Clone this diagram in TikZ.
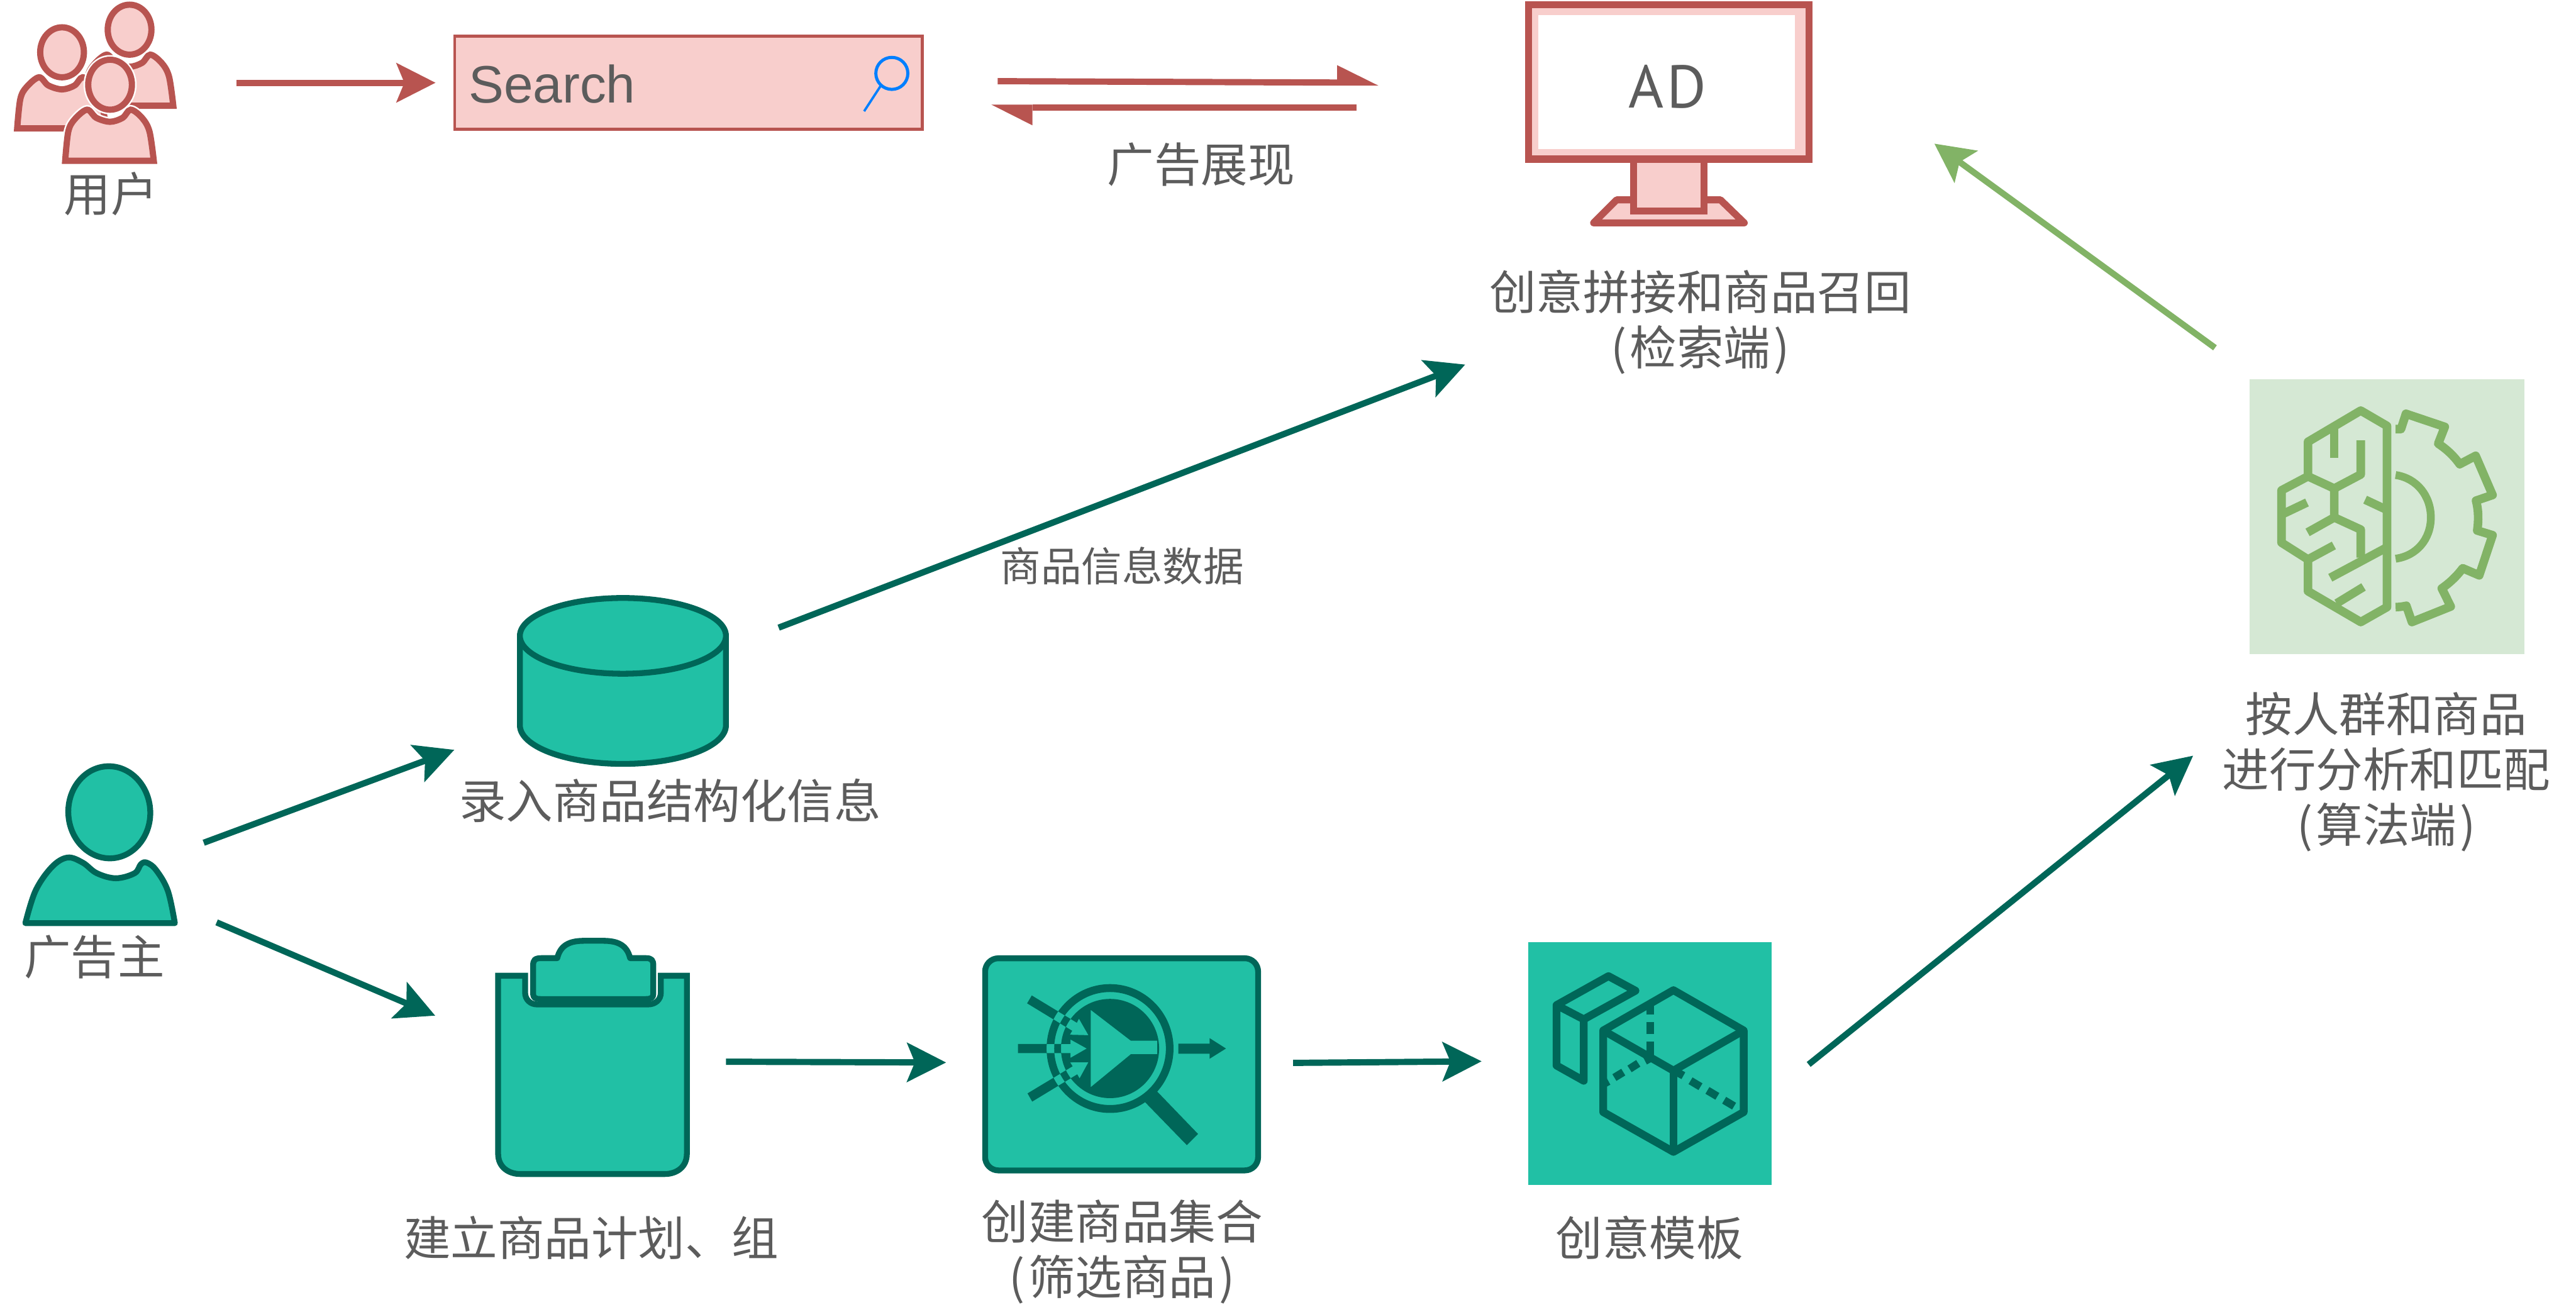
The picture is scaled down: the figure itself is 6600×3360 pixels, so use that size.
\documentclass[tikz,border=0pt]{standalone}
\usepackage{fontspec}
\usetikzlibrary{arrows.meta}
\newfontfamily\cjk{Noto Sans CJK SC}
\newfontfamily\latinf{Liberation Sans}
\newfontfamily\adfont{PT Sans}
\definecolor{tealf}{HTML}{21C0A5}
\definecolor{teald}{HTML}{006658}
\definecolor{pinkf}{HTML}{F8CECC}
\definecolor{redl}{HTML}{B85450}
\definecolor{greenf}{HTML}{D5E8D4}
\definecolor{greenl}{HTML}{82B366}
\definecolor{textc}{HTML}{5C5C5C}
\definecolor{bluem}{HTML}{007FFF}
\newcommand{\parl}{(\kern1.2pt}
\newcommand{\parr}{\kern1.2pt)}
\tikzset{
  every node/.style={outer sep=0pt},
  lab/.style={text=textc,font=\cjk\fontsize{17.1}{20.2}\selectfont,align=center,inner sep=0pt},
  smalllab/.style={text=textc,font=\cjk\fontsize{14.8}{18}\selectfont,align=center,inner sep=0pt},
  tealshape/.style={draw=teald,fill=tealf,line width=.075cm,line join=round},
  redshape/.style={draw=redl,fill=pinkf,line width=.08cm},
  tip/.style={-{Stealth[length=.5cm,width=.5cm,inset=.1cm]}},
  tealarrow/.style={draw=teald,line width=.08cm,tip},
  redarrow/.style={draw=redl,line width=.08cm,tip},
  greenarrow/.style={draw=greenl,line width=.08cm,tip},
  halfshaft/.style={draw=redl,line width=.08cm},
  halfhead/.style={fill=redl},
  brain/.style={draw=greenl,line width=.11cm,line join=round},
  cube/.style={draw=teald,line width=.1cm,line join=round},
}
\newcommand{\oneuser}[2]{%
  \begin{scope}[shift={(#1,#2)}]
    \draw[white,line width=.12cm] (282,217) ellipse [x radius=56,y radius=64];
    \draw[white,line width=.12cm] plot[smooth,tension=.55] coordinates {(167,412)(175,337)(191,306)(223,281)(247,302)(282,312)(314,302)(335,281)(364,302)(383,337)(394,412)} -- cycle;
    \draw[redshape] (282,217) ellipse [x radius=56,y radius=64];
    \draw[redshape] plot[smooth,tension=.55] coordinates {(167,412)(175,337)(191,306)(223,281)(247,302)(282,312)(314,302)(335,281)(364,302)(383,337)(394,412)} -- cycle;
  \end{scope}}
\begin{document}
\begin{tikzpicture}[x=0.005cm,y=-0.005cm]
\useasboundingbox (0,0) rectangle (6600,3360);
\fill[white] (0,0) rectangle (6600,3360);

% users
\oneuser{50}{-141}
\oneuser{-123}{-83}
\oneuser{0}{0}
\node[lab] (userlabel) at (284,497) {用户};

% search box
\node[draw=redl,fill=pinkf,line width=.04cm,minimum width=5.995cm,minimum height=1.2cm,inner sep=0pt,anchor=north west] (search) at (1165,92) {};
\node[text=textc,font=\latinf\fontsize{19.2}{22}\selectfont,inner sep=0pt,anchor=base west] (searchtext) at (1201,264) {Search};
\draw[bluem,line width=.04cm] (2285,188) ellipse [x radius=41,y radius=41];
\draw[bluem,line width=.03cm] (2257,219) -- (2214,285);

% monitor
\draw[redshape,line width=.09cm,line join=round] (4083,571) -- (4142,512) -- (4408,512) -- (4469,571) -- cycle;
\draw[redshape,line width=.09cm] (4186,400) rectangle (4366,541);
\node[draw=redl,fill=pinkf,line width=.09cm,minimum width=3.6cm,minimum height=1.98cm,inner sep=0pt,anchor=north west] (monitor) at (3916,12) {};
\node[fill=white,minimum width=3.29cm,minimum height=1.72cm,inner sep=0pt,anchor=north west] (screen) at (3942,38) {};
\node[text=textc,font=\adfont\fontsize{22}{26}\selectfont,inner sep=0pt] (adtext) at (4272,222) {A\kern1pt D};
\node[lab] (retrieval) at (4356,825) {创意拼接和商品召回\\\parl 检索端\parr};

% database
\draw[tealshape] (1332,1629) -- (1332,1858) arc[start angle=180,end angle=0,x radius=264,y radius=99] -- (1860,1629) -- cycle;
\draw[tealshape] (1596,1629) ellipse [x radius=264,y radius=97];
\node[lab] (dblabel) at (1717,2051) {录入商品结构化信息};

% advertiser
\draw[tealshape,rotate around={3:(280,2081)}] (280,2081) ellipse [x radius=105,y radius=118];
\draw[tealshape] plot[smooth,tension=.6] coordinates {(65,2365)(91,2282)(133,2221)(173,2197)(212,2210)(248,2237)(297,2250)(345,2237)(361,2214)(376,2210)(400,2229)(430,2282)(448,2365)} -- cycle;
\node[lab] (advlabel) at (242,2452) {广告主};

% clipboard
\begin{scope}[shift={(0,1900)},xscale=1.212,yscale=.765]
  \draw[tealshape,line join=miter] (1110,784) -- (1053,784) -- (1053,1380) .. controls (1053,1425) and (1075,1448) .. (1100,1448) -- (1405,1448) .. controls (1430,1448) and (1452,1425) .. (1452,1380) -- (1452,784) -- (1397,784) -- (1397,840) .. controls (1397,865) and (1385,880) .. (1370,880) -- (1135,880) .. controls (1122,880) and (1110,865) .. (1110,840) -- cycle;
  \draw[tealshape] (1127,750) .. controls (1127,732) and (1130,725) .. (1145,725) -- (1178,725) .. controls (1185,680) and (1205,667) .. (1235,667) -- (1275,667) .. controls (1305,667) and (1325,680) .. (1332,725) -- (1365,725) .. controls (1378,725) and (1381,732) .. (1381,750) -- (1381,845) .. controls (1381,858) and (1376,862) .. (1365,862) -- (1143,862) .. controls (1132,862) and (1127,858) .. (1127,845) -- cycle;
\end{scope}
\node[lab] (planlabel) at (1515,3171) {建立商品计划、组};

% filter
\node[draw=teald,fill=tealf,line width=.075cm,rounded corners=.17cm,minimum width=3.5cm,minimum height=2.72cm,inner sep=0pt,anchor=north west] (filter) at (2524,2455) {};
\begin{scope}[shift={(2450,2400)},xscale=.542,yscale=.4209]
  \fill[teald,even odd rule]
    (727,680) ellipse [x radius=300,y radius=392]
    (727,680) ellipse [x radius=264,y radius=344]
    (727,680) ellipse [x radius=232,y radius=302]
    (636,445) -- (825,632) -- (950,632) -- (950,715) -- (825,715) -- (636,915) -- cycle
    (292,652) -- (540,652) -- (540,625) -- (617,680) -- (540,737) -- (540,708) -- (292,708) -- cycle
    (357,357) -- (570,523) -- (580,498) -- (625,599) -- (537,596) -- (548,572) -- (335,405) -- cycle
    (337,953) -- (550,788) -- (538,764) -- (625,763) -- (583,862) -- (572,837) -- (359,1003) -- cycle;
  \fill[teald] (1050,650) -- (1198,650) -- (1198,617) -- (1275,680) -- (1198,742) -- (1198,712) -- (1050,712) -- cycle;
  \fill[teald] (950,942) -- (1143,1200) -- (1090,1268) -- (893,1007) -- cycle;
\end{scope}
\node[lab] (filterlabel) at (2875,3207) {创建商品集合\\\parl 筛选商品\parr};

% template
\node[fill=tealf,minimum width=3.12cm,minimum height=3.115cm,inner sep=0pt,anchor=north west] (template) at (3916,2414) {};
\begin{scope}[shift={(3880,2398)},xscale=.4464,yscale=.4337]
  \draw[cube] (510,558) -- (913,320) -- (1316,558) -- (1316,1040) -- (913,1275) -- (510,1040) -- cycle;
  \draw[cube] (510,558) -- (913,795) -- (1316,558);
  \draw[cube] (913,795) -- (913,1275);
  \draw[cube] (780,390) -- (780,465) (780,510) -- (780,578) (780,625) -- (780,720);
  \draw[cube] (510,875) -- (540,858) (574,836) -- (625,804) (661,785) -- (711,752) (750,738) -- (780,722);
  \draw[cube] (935,805) -- (970,825) (1011,855) -- (1068,890) (1108,912) -- (1165,947) (1204,970) -- (1261,1005);
  \draw[cube] (398,492) -- (242,408) -- (540,237) -- (695,323) -- (398,492) -- (398,855) -- (242,765) -- (242,408);
\end{scope}
\node[lab] (templatelabel) at (4226,3171) {创意模板};

% algorithm
\node[fill=greenf,minimum width=3.52cm,minimum height=3.52cm,inner sep=0pt,anchor=north west] (algo) at (5764,972) {};
\begin{scope}[shift={(5700,950)},xscale=.5102,yscale=.4785]
  \draw[brain] (815,295) -- (683,213) -- (418,380) -- (418,565) -- (285,640) -- (285,920) -- (418,1010) -- (418,1180) -- (683,1345) -- (815,1265) -- cycle;
  \draw[brain] (550,300) -- (550,465);
  \draw[brain] (683,372) -- (683,555) -- (550,630) -- (418,565);
  \draw[brain] (550,630) -- (550,785) -- (683,850) -- (683,1000);
  \draw[brain] (550,785) -- (416,865);
  \draw[brain] (285,770) -- (413,705);
  \draw[brain] (815,745) -- (705,690);
  \draw[brain] (815,945) -- (530,1108);
  \draw[brain] (418,1010) -- (548,935);
  \draw[brain] (562,1245) -- (697,1157);
  \draw[brain] (858,312) -- (885,312) -- (910,230) -- (1105,300) -- (1072,390) .. controls (1115,420) and (1150,455) .. (1180,500) -- (1260,455) -- (1345,665) -- (1262,695) .. controls (1275,750) and (1275,800) .. (1268,855) -- (1345,880) -- (1278,1095) -- (1195,1057) .. controls (1165,1100) and (1130,1135) .. (1090,1165) -- (1135,1262) -- (940,1345) -- (912,1258) .. controls (895,1262) and (875,1265) .. (858,1265);
  \draw[brain,line width=.1cm] (858,558) .. controls (965,575) and (1035,670) .. (1035,785) .. controls (1035,900) and (965,990) .. (858,1006);
\end{scope}
\node[lab] (algolabel) at (6114,1977) {按人群和商品\\进行分析和匹配\\\parl 算法端\parr};

% arrow end points
\coordinate (a1s) at (606,212);   \coordinate (a1e) at (1116,212);
\coordinate (b1s) at (2556,208);  \coordinate (b1e) at (3426,211.5);
\coordinate (b2s) at (3476,276);  \coordinate (b2e) at (2645,276);
\coordinate (c1s) at (5675,891);  \coordinate (c1e) at (4956,368);
\coordinate (d1s) at (522,2159);  \coordinate (d1e) at (1164,1921);
\coordinate (d2s) at (555,2363);  \coordinate (d2e) at (1115,2602);
\coordinate (d3s) at (1860,2720); \coordinate (d3e) at (2424,2722);
\coordinate (d4s) at (3313,2723); \coordinate (d4e) at (3796,2719);
\coordinate (d5s) at (4634,2727); \coordinate (d5e) at (5619,1936);
\coordinate (d6s) at (1995,1608); \coordinate (d6e) at (3754,934);

\draw[redarrow] (a1s) -- (a1e);
\draw[halfshaft] (b1s) -- (b1e);
\fill[halfhead] (3426,167) -- (3532,219.5) -- (3426,219.5) -- cycle;
\draw[halfshaft] (b2s) -- (b2e);
\fill[halfhead] (2645,321) -- (2540,268) -- (2645,268) -- cycle;
\node[lab] (showlabel) at (3077,421) {广告展现};
\draw[greenarrow] (c1s) -- (c1e);
\draw[tealarrow] (d1s) -- (d1e);
\draw[tealarrow] (d2s) -- (d2e);
\draw[tealarrow] (d3s) -- (d3e);
\draw[tealarrow] (d4s) -- (d4e);
\draw[tealarrow] (d5s) -- (d5e);
\draw[tealarrow] (d6s) -- (d6e);
\node[smalllab] (datalabel) at (2875,1450) {商品信息数据};
\end{tikzpicture}
\end{document}
